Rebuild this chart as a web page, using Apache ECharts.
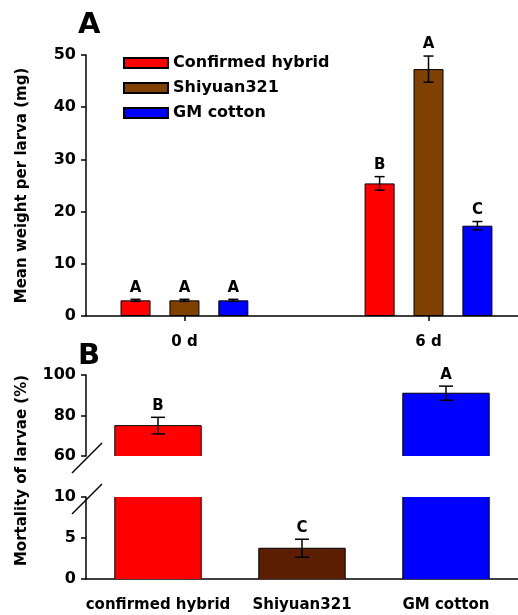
<!DOCTYPE html>
<html>
<head>
<meta charset="utf-8">
<script src="https://cdn.jsdelivr.net/npm/echarts@6/dist/echarts.min.js"></script>
<style>
html, body { margin: 0; padding: 0; background: #fff; }
#chart { width: 518px; height: 615px; }
</style>
</head>
<body>
<div id="chart"></div>
<script>
// panel A - mean weight per larva (mg)
const seriesNames = ["Confirmed hybrid", "Shiyuan321", "GM cotton"];
const days = [0, 6];
const weightMean = [[3.0, 25.4], [3.0, 47.3], [3.0, 17.3]];
const weightSE = [[0.2, 1.3], [0.2, 2.5], [0.2, 0.8]];
const weightLetters = [["A", "B"], ["A", "A"], ["A", "C"]];

// panel B - mortality of larvae (%), broken axis
const mortCats = ["confirmed hybrid", "Shiyuan321", "GM cotton"];
const mortMean = [75, 3.75, 91];
const mortSE = [4.1, 1.1, 3.5];
const mortLetters = ["B", "C", "A"];
const lowRange = [0, 10];
const highRange = [60, 100];

const colorsA = ["#ff0000", "#804000", "#0000ff"];
const colorsB = ["#ff0000", "#5c1e00", "#0000ff"];

const FONT = "DejaVu Sans";
const barW = 30;
const gapRatio = 0.63;
const axisLeft = 86;

const lineStyle = { color: "#000", width: 1.5 };
const labelStyle = { color: "#000", fontFamily: FONT, fontWeight: "bold", fontSize: 15 };

const chart = echarts.init(document.getElementById("chart"));

function errorItem(cx, yTop, yBot, cap, letter, letterGap) {
    const st = { stroke: "#000", lineWidth: 1.5 };
    return [
        { type: "line", shape: { x1: cx, y1: yTop, x2: cx, y2: yBot }, style: st },
        { type: "line", shape: { x1: cx - cap / 2, y1: yTop, x2: cx + cap / 2, y2: yTop }, style: st },
        { type: "line", shape: { x1: cx - cap / 2, y1: yBot, x2: cx + cap / 2, y2: yBot }, style: st },
        {
            type: "text",
            x: cx,
            y: yTop - letterGap,
            style: {
                text: letter,
                fill: "#000",
                font: "bold 15px '" + FONT + "'",
                align: "center",
                verticalAlign: "bottom"
            }
        }
    ];
}

function weightErrors(s) {
    return function (params, api) {
        const j = params.dataIndex;
        const x = api.value(0);
        const m = api.value(1);
        const e = weightSE[s][j];
        const off = (s - 1) * barW * (1 + gapRatio);
        const top = api.coord([x, m + e]);
        const bot = api.coord([x, m - e]);
        return { type: "group", children: errorItem(top[0] + off, top[1], bot[1], 10, weightLetters[s][j], 4) };
    };
}

function mortBars(range) {
    return function (params, api) {
        const i = api.value(0);
        const v = api.value(1);
        if (v <= range[0]) return null;
        const clipped = v > range[1];
        const p0 = api.coord([i, range[0]]);
        const p1 = api.coord([i, Math.min(v, range[1])]);
        const w = api.size([1, 0])[0] * 0.6;
        const x0 = p0[0] - w / 2;
        const x1 = p0[0] + w / 2;
        const edge = { stroke: "#000", lineWidth: 1, fill: null };
        const children = [
            { type: "rect", shape: { x: x0, y: p1[1], width: w, height: p0[1] - p1[1] }, style: { fill: colorsB[i] } }
        ];
        if (clipped) {
            children.push({ type: "line", shape: { x1: x0, y1: p0[1], x2: x0, y2: p1[1] }, style: edge });
            children.push({ type: "line", shape: { x1: x1, y1: p0[1], x2: x1, y2: p1[1] }, style: edge });
        } else {
            children.push({
                type: "polyline",
                shape: { points: [[x0, p0[1]], [x0, p1[1]], [x1, p1[1]], [x1, p0[1]]] },
                style: edge
            });
            const e = mortSE[i];
            const top = api.coord([i, v + e]);
            const bot = api.coord([i, v - e]);
            errorItem(p0[0], top[1], bot[1], 14, mortLetters[i], 4).forEach(c => children.push(c));
        }
        return { type: "group", children: children };
    };
}

const series = [];

seriesNames.forEach((name, s) => {
    series.push({
        name: name,
        type: "bar",
        xAxisIndex: 0,
        yAxisIndex: 0,
        barWidth: barW,
        barGap: (gapRatio * 100) + "%",
        itemStyle: { color: colorsA[s], borderColor: "#000", borderWidth: 1 },
        data: days.map((d, j) => [d, weightMean[s][j]])
    });
});

seriesNames.forEach((name, s) => {
    series.push({
        type: "custom",
        xAxisIndex: 0,
        yAxisIndex: 0,
        renderItem: weightErrors(s),
        data: days.map((d, j) => [d, weightMean[s][j]]),
        z: 5
    });
});

series.push({
    type: "custom",
    xAxisIndex: 1,
    yAxisIndex: 1,
    renderItem: mortBars(highRange),
    data: mortMean.map((v, i) => [i, v])
});

series.push({
    type: "custom",
    xAxisIndex: 2,
    yAxisIndex: 2,
    renderItem: mortBars(lowRange),
    data: mortMean.map((v, i) => [i, v])
});

chart.setOption({
    animation: false,
    backgroundColor: "#fff",
    title: [
        { text: "A", left: 73, top: 6, textStyle: { fontFamily: FONT, fontWeight: "bold", fontSize: 29, color: "#000" } },
        { text: "B", left: 73, top: 337, textStyle: { fontFamily: FONT, fontWeight: "bold", fontSize: 29, color: "#000" } }
    ],
    legend: {
        data: seriesNames,
        orient: "vertical",
        left: 118,
        top: 50,
        itemWidth: 44,
        itemHeight: 10,
        itemGap: 9,
        icon: "rect",
        textStyle: { color: "#000", fontFamily: FONT, fontWeight: "bold", fontSize: 16 }
    },
    grid: [
        { left: axisLeft, right: 0, top: 55, height: 261 },
        { left: axisLeft, right: -2, top: 375, height: 81 },
        { left: axisLeft, right: -2, top: 497, height: 82 }
    ],
    xAxis: [
        {
            type: "value",
            gridIndex: 0,
            min: -2.42,
            max: 8.2,
            splitLine: { show: false },
            axisLine: { onZero: false, lineStyle: lineStyle },
            axisTick: { customValues: days, length: 5, lineStyle: lineStyle },
            axisLabel: Object.assign({ customValues: days, formatter: v => v + " d", margin: 19 }, labelStyle)
        },
        { type: "category", gridIndex: 1, data: mortCats, show: false },
        {
            type: "category",
            gridIndex: 2,
            data: mortCats,
            axisLine: { lineStyle: lineStyle },
            axisTick: { alignWithLabel: true, interval: 0, length: 5, lineStyle: lineStyle },
            axisLabel: Object.assign({ margin: 19, interval: 0, hideOverlap: false }, labelStyle)
        }
    ],
    yAxis: [
        {
            type: "value",
            gridIndex: 0,
            min: 0,
            max: 50,
            interval: 10,
            name: "Mean weight per larva (mg)",
            nameLocation: "middle",
            nameRotate: 90,
            nameGap: 56,
            nameTextStyle: labelStyle,
            splitLine: { show: false },
            axisLine: { show: true, onZero: false, lineStyle: lineStyle },
            axisTick: { show: true, length: 5, lineStyle: lineStyle },
            axisLabel: Object.assign({ margin: 10 }, labelStyle, { fontSize: 16 })
        },
        {
            type: "value",
            gridIndex: 1,
            min: highRange[0],
            max: highRange[1],
            interval: 20,
            splitLine: { show: false },
            axisLine: { show: true, onZero: false, lineStyle: lineStyle },
            axisTick: { show: true, length: 5, lineStyle: lineStyle },
            axisLabel: Object.assign({ margin: 10 }, labelStyle, { fontSize: 16 })
        },
        {
            type: "value",
            gridIndex: 2,
            min: lowRange[0],
            max: lowRange[1],
            interval: 5,
            splitLine: { show: false },
            axisLine: { show: true, onZero: false, lineStyle: lineStyle },
            axisTick: { show: true, length: 5, lineStyle: lineStyle },
            axisLabel: Object.assign({ margin: 10 }, labelStyle, { fontSize: 16 })
        }
    ],
    series: series
});

// axis break marks and the shared axis name of panel B
const yBreakHigh = chart.convertToPixel({ yAxisIndex: 1 }, highRange[0]);
const yBreakLow = chart.convertToPixel({ yAxisIndex: 2 }, lowRange[1]);
const slash = y => ({
    type: "line",
    shape: { x1: axisLeft - 14, y1: y + 17, x2: axisLeft + 16, y2: y - 13 },
    style: { stroke: "#000", lineWidth: 1.5 }
});

chart.setOption({
    graphic: [
        slash(yBreakHigh),
        slash(yBreakLow),
        {
            type: "text",
            x: 22,
            y: (yBreakHigh + yBreakLow) / 2 - 6,
            rotation: Math.PI / 2,
            style: {
                text: "Mortality of larvae (%)",
                fill: "#000",
                font: "bold 15px '" + FONT + "'",
                align: "center",
                verticalAlign: "middle"
            }
        }
    ]
});
</script>
</body>
</html>
